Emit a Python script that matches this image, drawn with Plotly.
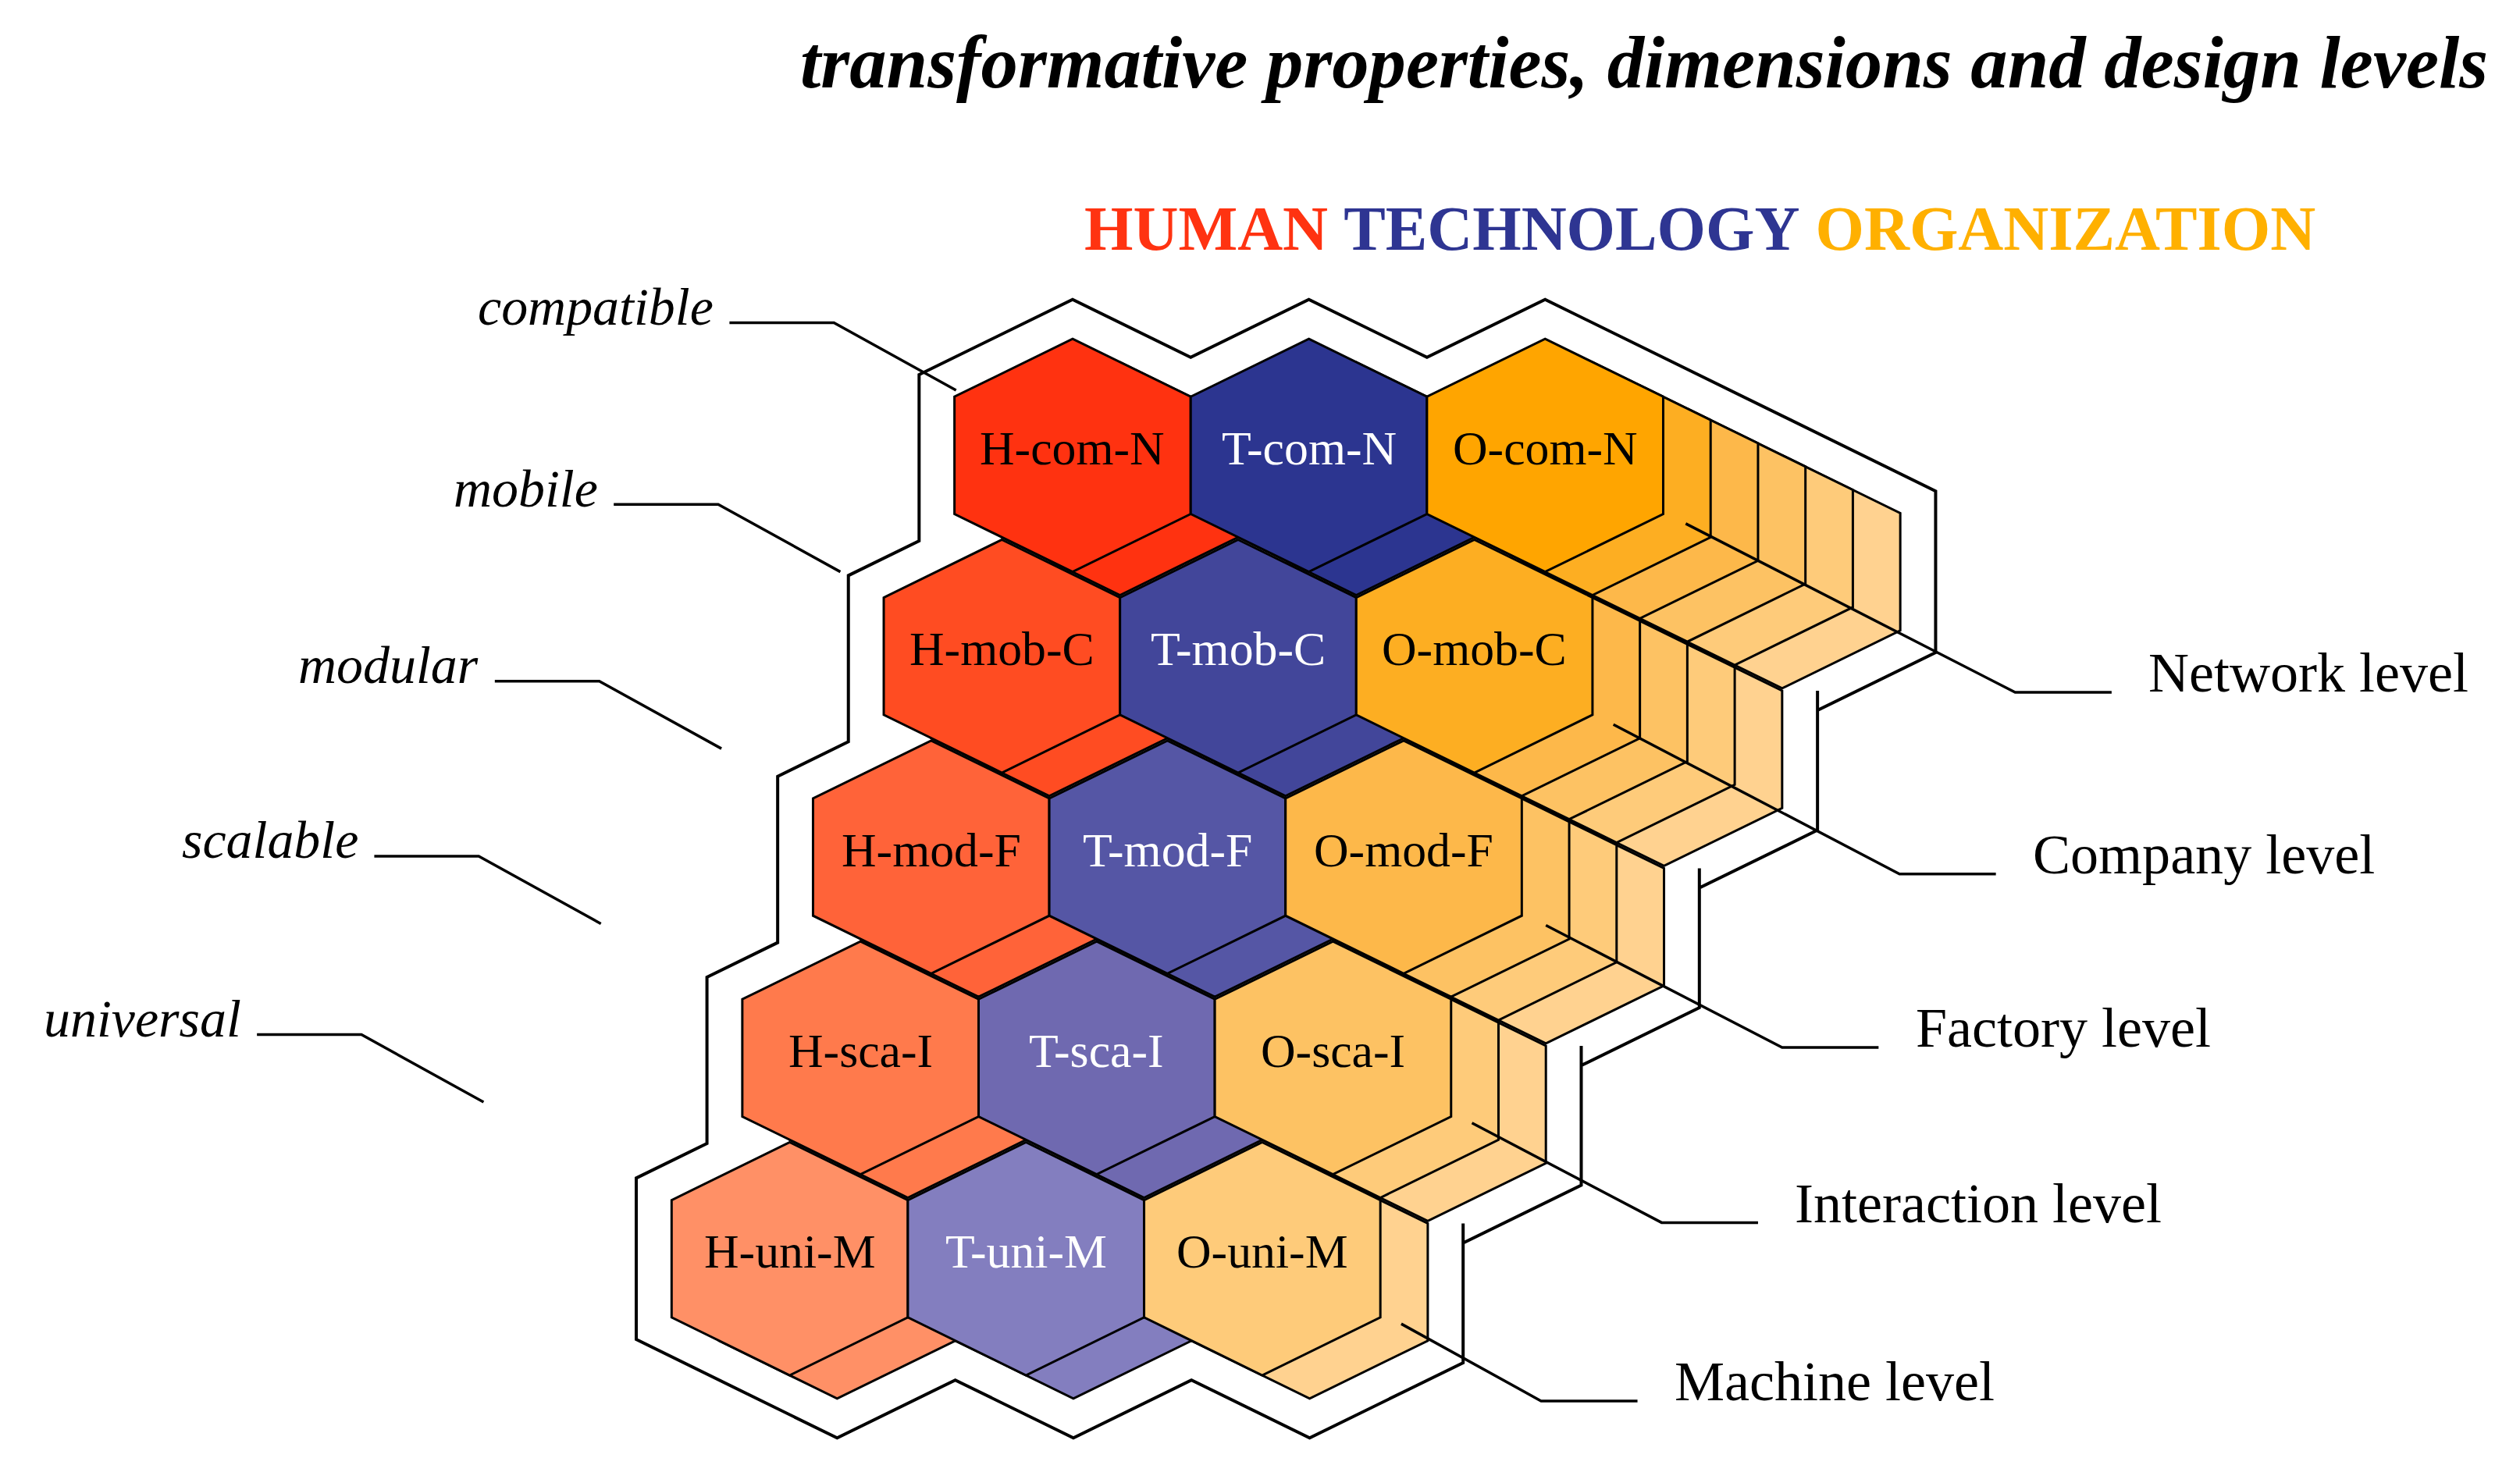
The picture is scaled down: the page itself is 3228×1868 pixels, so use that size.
import plotly.graph_objects as go

# ---------------- data ----------------
dimensions = ["H", "T", "O"]
properties = ["com", "mob", "mod", "sca", "uni"]
levels_code = ["N", "C", "F", "I", "M"]
left_labels = ["compatible", "mobile", "modular", "scalable", "universal"]
right_labels = ["Network level", "Company level", "Factory level", "Interaction level", "Machine level"]
header_words = ["HUMAN", "TECHNOLOGY", "ORGANIZATION"]
header_colors = ["#FF3311", "#2E3592", "#FFB000"]
title_text = "transformative properties, dimensions and design levels"
colors_H = ["#FF3210", "#FF4C22", "#FF6339", "#FF7A4C", "#FF9066"]
colors_T = ["#2C3590", "#42469A", "#5556A5", "#6F69B0", "#837EBF"]
colors_O = ["#FFA500", "#FDAE22", "#FDB84A", "#FDC263", "#FECB7A", "#FFD290"]
text_colors = ["black", "white", "black"]

# ---------------- geometry (display units, 1568 x 907) ----------------
S = 3228 / 1568.0
W, H = 1568.0, 1868 / S
HW, HS1, HS2, HH = 147.0, 36.0, 109.0, 145.0
X0, Y0, DXC, DXR, DYR = 590.0, 207.0, 147.0, 44.0, 125.0
OFF = (29.5, 14.5)

def origin(r, c, k=0):
    return (X0 - DXR * r + DXC * c + OFF[0] * k, Y0 + DYR * r + OFF[1] * k)

def hexpts(x0, yt):
    return [(x0 + HW / 2, yt), (x0 + HW, yt + HS1), (x0 + HW, yt + HS2),
            (x0 + HW / 2, yt + HH), (x0, yt + HS2), (x0, yt + HS1)]

def path(pts, close=True):
    s = "M " + " L ".join(f"{x:.2f},{y:.2f}" for x, y in pts)
    return s + (" Z" if close else "")

shapes, ann = [], []

def add_poly(pts, fill, lw=3):
    shapes.append(dict(type="path", path=path(pts), fillcolor=fill,
                       line=dict(color="black", width=lw), layer="above"))

def add_line(pts, lw=3.5):
    shapes.append(dict(type="path", path=path(pts, close=False),
                       line=dict(color="black", width=lw), layer="above"))

cols = [colors_H, colors_T, colors_O]
for r in range(5):
    for c in range(3):
        nback = (5 - r) if c == 2 else 1
        for k in range(nback, -1, -1):
            if c == 2:
                col = colors_O[min(r + k, 5)]
            else:
                col = cols[c][r]
            add_poly(hexpts(*origin(r, c, k)), col)
        x0, yt = origin(r, c)
        ann.append(dict(x=x0 + HW / 2, y=yt + 68,
                        text=f"{dimensions[c]}-{properties[r]}-{levels_code[r]}",
                        showarrow=False, xanchor="center", yanchor="middle",
                        font=dict(family="Liberation Serif", size=30 * S, color=text_colors[c])))

# outer boundary polygon from hex vertices
b = []
top = [hexpts(*origin(0, c)) for c in range(3)]
b += [top[0][5], top[0][0], top[0][1], top[1][0], top[1][1], top[2][0]]
for r in range(5):
    k = 5 - r if r < 4 else 1
    h = hexpts(*origin(r, 2, k))
    b += [h[1], h[2], h[3]]
for c in (1, 0):
    h = hexpts(*origin(4, c, 1))
    b += [h[2], h[3]]
h4 = hexpts(*origin(4, 0))
b += [h4[4], h4[5]]
slope = HS1 / (HW / 2)
for r in range(3, -1, -1):
    hx = hexpts(*origin(r, 0))
    b += [(hx[4][0], hexpts(*origin(r + 1, 0))[5][1] - DXR * slope), hx[5]]
b = b[:-1]

def offset_poly(pts, d):
    n = len(pts)
    area = sum(pts[i][0] * pts[(i + 1) % n][1] - pts[(i + 1) % n][0] * pts[i][1] for i in range(n))
    sg = 1 if area > 0 else -1
    lines = []
    for i in range(n):
        (x1, y1), (x2, y2) = pts[i], pts[(i + 1) % n]
        ux, uy = x2 - x1, y2 - y1
        L = (ux * ux + uy * uy) ** 0.5
        ux, uy = ux / L, uy / L
        nx, ny = -uy * sg, ux * sg
        lines.append(((x1 + nx * d, y1 + ny * d), (ux, uy)))
    out = []
    for i in range(n):
        (p, u), (q, v) = lines[i - 1], lines[i]
        den = u[0] * v[1] - u[1] * v[0]
        if abs(den) < 1e-6:
            out.append(q)
            continue
        t = ((q[0] - p[0]) * v[1] - (q[1] - p[1]) * v[0]) / den
        out.append((p[0] + u[0] * t, p[1] + u[1] * t))
    return out

outline = offset_poly(b, -22)
# choose the larger (outward) offset
def area(p):
    n = len(p)
    return abs(sum(p[i][0] * p[(i + 1) % n][1] - p[(i + 1) % n][0] * p[i][1] for i in range(n)))
if area(outline) < area(b):
    outline = offset_poly(b, 22)
shapes.append(dict(type="path", path=path(outline), line=dict(color="black", width=4), layer="above"))

# left labels
left_text_right = [441, 369, 295, 220, 147]
left_text_y = [187, 300, 410, 519, 630]
for lab, xr, yc in zip(left_labels, left_text_right, left_text_y):
    ann.append(dict(x=xr, y=yc, text=f"<i>{lab}</i>", showarrow=False, xanchor="right", yanchor="middle",
                    font=dict(family="Liberation Serif", size=33 * S, color="black")))
    yl = yc + 10
    add_line([(xr + 9, yl), (xr + 74, yl), (xr + 150, yl + 42)])

# right labels
right_line_x = [1250, 1178, 1105, 1030, 955]
right_line_y = [427, 540, 648, 757, 868]
right_start = [(1045, 322), (1000, 447), (958, 572), (912, 695), (868, 820)]
for lab, xh, yl, st in zip(right_labels, right_line_x, right_line_y, right_start):
    add_line([st, (xh, yl), (xh + 60, yl)])
    ann.append(dict(x=xh + 82, y=yl - 12, text=lab, showarrow=False, xanchor="left", yanchor="middle",
                    font=dict(family="Liberation Serif", size=35 * S, color="black")))

# header & title
hdr = " ".join(f"<span style='color:{c}'><b>{w}</b></span>" for w, c in zip(header_words, header_colors))
ann.append(dict(x=1054, y=138, text=hdr, showarrow=False, xanchor="center", yanchor="middle",
                font=dict(family="Liberation Serif", size=39 * S)))
ann.append(dict(x=1545, y=35, text=f"<b><i>{title_text}</i></b>", showarrow=False, xanchor="right",
                yanchor="middle", font=dict(family="Liberation Serif", size=46 * S, color="black")))

fig = go.Figure(go.Scatter(x=[0, W], y=[0, H], mode="markers", marker=dict(opacity=0), hoverinfo="skip"))
fig.update_layout(width=3228, height=1868, margin=dict(l=0, r=0, t=0, b=0),
                  paper_bgcolor="white", plot_bgcolor="white", showlegend=False,
                  shapes=shapes, annotations=ann,
                  xaxis=dict(range=[0, W], visible=False, fixedrange=True),
                  yaxis=dict(range=[H, 0], visible=False, fixedrange=True))
fig.write_html("out.html")
